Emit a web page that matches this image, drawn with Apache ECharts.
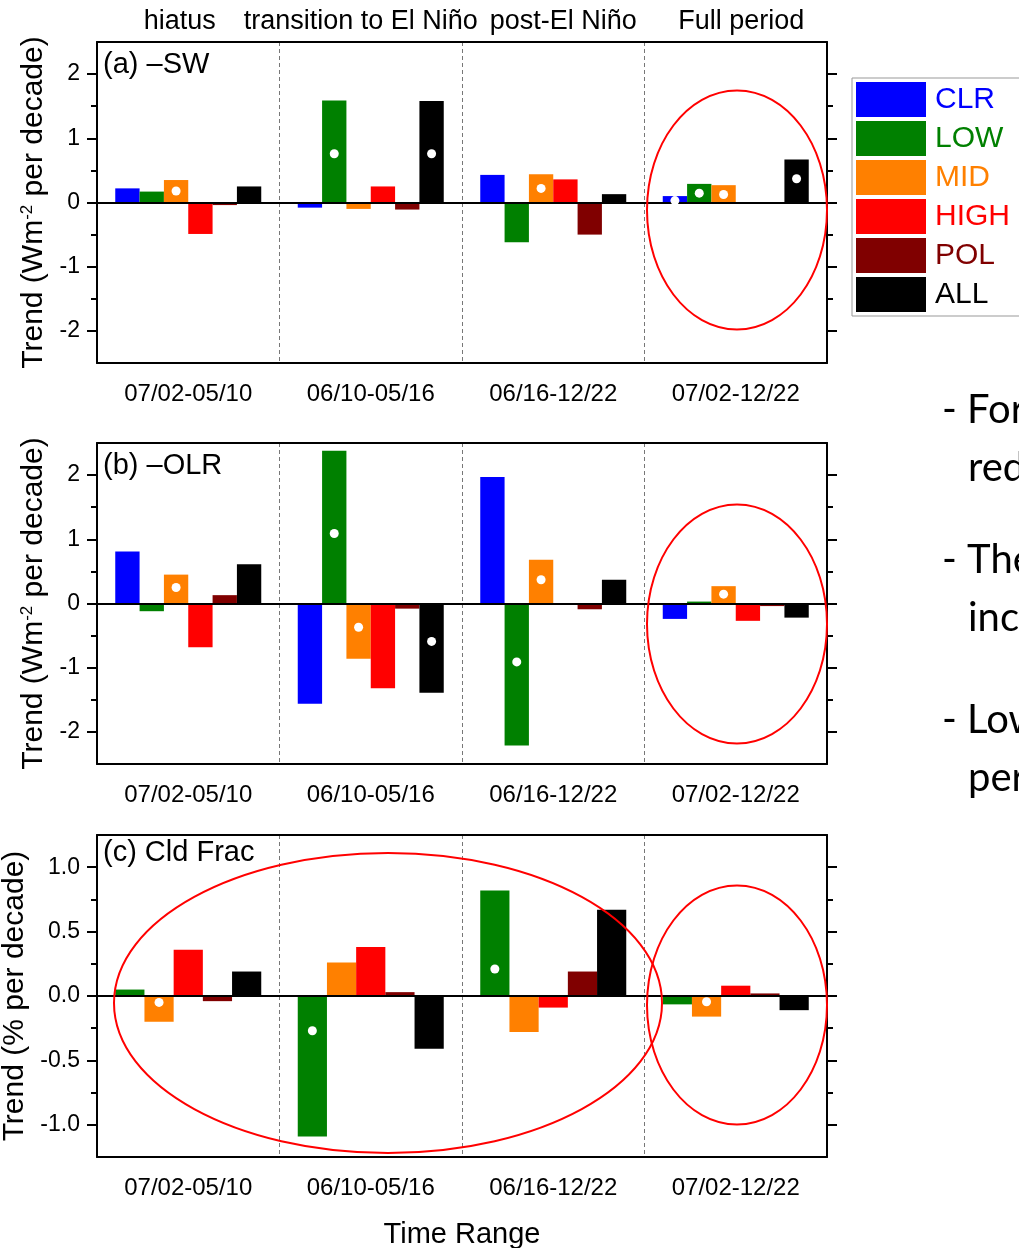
<!DOCTYPE html>
<html>
<head>
<meta charset="utf-8">
<script src="https://cdn.jsdelivr.net/npm/echarts@6/dist/echarts.min.js"></script>
<style>
  html, body { margin: 0; padding: 0; background: #fff; }
  #chart { width: 1019px; height: 1248px; }
</style>
</head>
<body>
<div id="chart"></div>
<script>
// Periods on the x axis and the phase names shown above the first panel
const periods = ['07/02-05/10', '06/10-05/16', '06/16-12/22', '07/02-12/22'];
const phases = ['hiatus', 'transition to El Niño', 'post-El Niño', 'Full period'];

// (a) -SW trends, W m-2 per decade
const swCLR  = [0.22, -0.08, 0.43, 0.10];
const swLOW  = [0.17, 1.59, -0.62, 0.29];
const swMID  = [0.35, -0.10, 0.44, 0.27];
const swHIGH = [-0.49, 0.25, 0.36, 0];
const swPOL  = [-0.04, -0.11, -0.50, 0];
const swALL  = [0.25, 1.58, 0.13, 0.67];
// significance markers (white dots)
const swCLRSig = [null, null, null, 0.03];
const swLOWSig = [null, 0.76, null, 0.145];
const swMIDSig = [0.18, null, 0.22, 0.125];
const swALLSig = [null, 0.76, null, 0.37];

// (b) -OLR trends, W m-2 per decade
const olrCLR  = [0.81, -1.56, 1.97, -0.24];
const olrLOW  = [-0.12, 2.38, -2.21, 0.03];
const olrMID  = [0.45, -0.86, 0.68, 0.27];
const olrHIGH = [-0.68, -1.32, 0, -0.27];
const olrPOL  = [0.13, -0.08, -0.09, -0.04];
const olrALL  = [0.61, -1.39, 0.37, -0.22];
const olrLOWSig = [null, 1.09, -0.91, null];
const olrMIDSig = [0.25, -0.37, 0.37, 0.145];
const olrALLSig = [null, -0.59, null, null];

// (c) cloud fraction trends, % per decade
const cfLOW  = [0.05, -1.09, 0.82, -0.065];
const cfMID  = [-0.20, 0.26, -0.28, -0.16];
const cfHIGH = [0.36, 0.38, -0.09, 0.08];
const cfPOL  = [-0.04, 0.03, 0.19, 0.02];
const cfALL  = [0.19, -0.41, 0.67, -0.11];
const cfLOWSig = [null, -0.27, 0.21, null];
const cfMIDSig = [-0.05, null, null, -0.045];

// y-axis tick values
const wmMajor = [-2, -1, 0, 1, 2];
const wmMinor = [-1.5, -0.5, 0.5, 1.5];
const cfMajor = [-1, -0.5, 0, 0.5, 1];
const cfMinor = [-0.75, -0.25, 0.25, 0.75];

const cloudTypes = ['CLR', 'LOW', 'MID', 'HIGH', 'POL', 'ALL'];
const colors = {
  CLR: '#0000ff', LOW: '#008000', MID: '#ff8000',
  HIGH: '#ff0000', POL: '#800000', ALL: '#000000'
};
const FONT = "'Liberation Sans', Arial, sans-serif";

// phase headings sit slightly off the period centres; nudge them with padding
const phasePad = [[0, 17, 0, 0], [0, 20, 0, 0], [0, 0, 0, 20], [0, 0, 0, 11]];
const phaseItems = phases.map((t, i) => ({ value: t, textStyle: { padding: phasePad[i] } }));

const panels = [
  {
    top: 42, height: 321, min: -2.5, max: 2.5, step: 0.5,
    major: wmMajor, minor: wmMinor, digits: 0,
    title: 'Trend (Wm{sup|-2} per decade)', tag: '(a) \u2013SW', tagY: 65,
    series: {
      CLR: [swCLR, swCLRSig], LOW: [swLOW, swLOWSig], MID: [swMID, swMIDSig],
      HIGH: [swHIGH, null], POL: [swPOL, null], ALL: [swALL, swALLSig]
    }
  },
  {
    top: 443, height: 321, min: -2.5, max: 2.5, step: 0.5,
    major: wmMajor, minor: wmMinor, digits: 0,
    title: 'Trend (Wm{sup|-2} per decade)', tag: '(b) \u2013OLR', tagY: 466,
    series: {
      CLR: [olrCLR, null], LOW: [olrLOW, olrLOWSig], MID: [olrMID, olrMIDSig],
      HIGH: [olrHIGH, null], POL: [olrPOL, null], ALL: [olrALL, olrALLSig]
    }
  },
  {
    top: 835, height: 322, min: -1.25, max: 1.25, step: 0.25,
    major: cfMajor, minor: cfMinor, digits: 1,
    title: 'Trend (% per decade)', tag: '(c) Cld Frac', tagY: 853,
    series: {
      LOW: [cfLOW, cfLOWSig], MID: [cfMID, cfMIDSig],
      HIGH: [cfHIGH, null], POL: [cfPOL, null], ALL: [cfALL, null]
    }
  }
];

const grid = [], xAxis = [], yAxis = [], series = [];
const black = { color: '#000', width: 2 };

panels.forEach((p, gi) => {
  grid.push({ left: 97, top: p.top, width: 730, height: p.height, outerBoundsMode: 'none', containLabel: false });

  // bottom category axis with dashed period separators
  xAxis.push({
    gridIndex: gi, type: 'category', data: periods, position: 'bottom',
    axisLine: { onZero: false, lineStyle: black },
    axisTick: { alignWithLabel: true, length: 8, lineStyle: black },
    axisLabel: { interval: 0, fontSize: 24, color: '#000', fontFamily: FONT, margin: 19 },
    splitLine: { show: true, interval: 0, lineStyle: { color: '#777', width: 1, type: [4, 3] } },
    name: gi === 2 ? 'Time Range' : '', nameLocation: 'middle', nameGap: 63,
    nameTextStyle: { fontSize: 29, color: '#000', fontFamily: FONT }
  });
  // top frame line (phase names over the first panel)
  xAxis.push({
    gridIndex: gi, type: 'category', data: gi === 0 ? phaseItems : periods, position: 'top',
    axisLine: { onZero: false, lineStyle: black },
    axisTick: { show: false },
    axisLabel: {
      show: gi === 0, interval: 0, hideOverlap: false,
      fontSize: 27, color: '#000', fontFamily: FONT, margin: 7
    }
  });

  const yBase = (pos) => ({
    gridIndex: gi, type: 'value', position: pos,
    min: p.min, max: p.max, interval: p.step,
    splitLine: { show: false }
  });
  // left: long ticks + labels + title
  yAxis.push(Object.assign(yBase('left'), {
    axisLine: { show: true, onZero: false, lineStyle: black },
    axisTick: { show: true, length: 10, customValues: p.major, lineStyle: black },
    axisLabel: {
      customValues: p.major, fontSize: 23, color: '#000', fontFamily: FONT, margin: 17,
      formatter: (v) => Number(v).toFixed(p.digits)
    },
    name: p.title, nameLocation: 'middle', nameRotate: 90, nameGap: 46,
    nameTextStyle: {
      fontSize: 30, color: '#000', fontFamily: FONT,
      rich: { sup: { fontSize: 17, color: '#000', fontFamily: FONT, verticalAlign: 'top' } }
    }
  }));
  // left: short ticks
  yAxis.push(Object.assign(yBase('left'), {
    axisLine: { show: false, onZero: false },
    axisTick: { show: true, length: 6, customValues: p.minor, lineStyle: black },
    axisLabel: { show: false }
  }));
  // right frame with ticks
  yAxis.push(Object.assign(yBase('right'), {
    axisLine: { show: true, onZero: false, lineStyle: black },
    axisTick: { show: true, length: 10, customValues: p.major, lineStyle: black },
    axisLabel: { show: false }
  }));
  yAxis.push(Object.assign(yBase('right'), {
    axisLine: { show: false, onZero: false },
    axisTick: { show: true, length: 6, customValues: p.minor, lineStyle: black },
    axisLabel: { show: false }
  }));

  const names = cloudTypes.filter((n) => p.series[n]);
  names.forEach((name, si) => {
    const [vals, sig] = p.series[name];
    const dots = [];
    if (sig) {
      sig.forEach((v, ci) => {
        if (v !== null) dots.push({ coord: [ci, v] });
      });
    }
    const s = {
      type: 'bar', name: name,
      xAxisIndex: gi * 2, yAxisIndex: gi * 4,
      data: vals,
      barGap: '0%', barCategoryGap: '20%',
      itemStyle: { color: colors[name] },
      markPoint: {
        silent: true, symbol: 'circle', symbolSize: 9,
        itemStyle: { color: '#ffffff' }, label: { show: false },
        data: dots
      }
    };
    if (si === names.length - 1) {
      s.markLine = {
        silent: true, symbol: ['none', 'none'], label: { show: false },
        lineStyle: { color: '#000', width: 2, type: 'solid' },
        data: [{ yAxis: 0 }]
      };
    }
    series.push(s);
  });
});

const ring = (cx, cy, rx, ry) => ({
  type: 'ellipse', shape: { cx, cy, rx, ry }, z: 100, silent: true,
  style: { fill: null, stroke: '#ff0000', lineWidth: 2 }
});
const word = (text, x, y, size, font) => ({
  type: 'text', x, y, z: 100, silent: true,
  style: { text, font: size + 'px ' + font, fill: '#000', verticalAlign: 'middle' }
});

const graphic = [
  ring(737, 210, 90, 119.5),
  ring(737, 624, 90, 119.5),
  ring(388, 1003, 274, 150),
  ring(737, 1005, 90, 119.5),
  word(panels[0].tag, 103, panels[0].tagY, 29, FONT),
  word(panels[1].tag, 103, panels[1].tagY, 29, FONT),
  word(panels[2].tag, 103, panels[2].tagY, 29, FONT),
  word('- For', 942, 410, 40, 'Lato, sans-serif'),
  word('red', 968, 468, 40, 'Lato, sans-serif'),
  word('- The', 942, 560, 40, 'Lato, sans-serif'),
  word('inc', 968, 618, 40, 'Lato, sans-serif'),
  word('- Low', 942, 720, 40, 'Lato, sans-serif'),
  word('per', 968, 778, 40, 'Lato, sans-serif')
];

const chart = echarts.init(document.getElementById('chart'), null, { renderer: 'canvas' });
chart.setOption({
  animation: false,
  backgroundColor: '#fff',
  grid, xAxis, yAxis, series, graphic,
  legend: {
    orient: 'vertical', left: 852, top: 78,
    icon: 'rect', itemWidth: 70, itemHeight: 35, itemGap: 4,
    padding: [4, 10, 4, 4],
    borderColor: '#999', borderWidth: 1,
    selectedMode: false,
    textStyle: { fontSize: 30, fontFamily: FONT, padding: [0, 0, 0, 4] },
    data: cloudTypes.map((n) => ({ name: n, textStyle: { color: colors[n] } }))
  }
});
</script>
</body>
</html>
